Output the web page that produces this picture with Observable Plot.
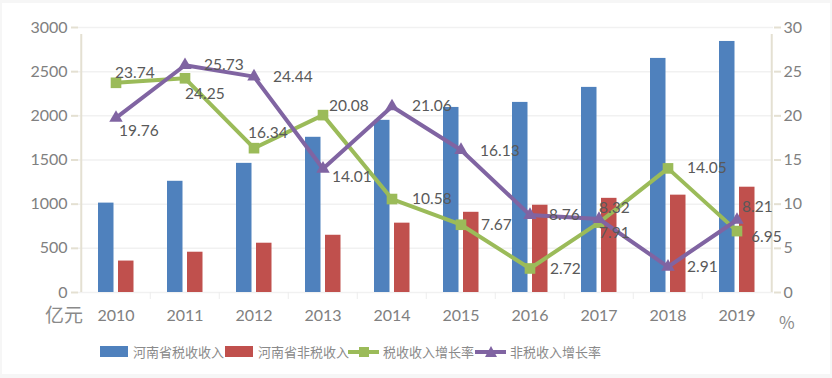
<!DOCTYPE html>
<html><head><meta charset="utf-8">
<script src="https://cdn.jsdelivr.net/npm/d3@7"></script>
<script src="https://cdn.jsdelivr.net/npm/@observablehq/plot@0.6"></script>
<style>
html,body{margin:0;padding:0;background:#f6f6f6;}
#wrap{position:relative;width:832px;height:378px;overflow:hidden;}
#card{position:absolute;left:2px;top:3px;width:828px;height:371px;background:#fff;}
#chart{position:absolute;left:0;top:0;}
.t{position:absolute;white-space:nowrap;color:#8a8a8a;font-family:"Noto Sans CJK SC";}
.sw{position:absolute;}
</style></head>
<body>
<div id="wrap"><div id="card"></div><div id="chart"></div></div>
<script>
const years = ["2010","2011","2012","2013","2014","2015","2016","2017","2018","2019"];
const taxRevenue = [1012, 1259, 1462, 1757, 1949, 2095, 2152, 2322, 2650, 2842];
const nonTaxRevenue = [356, 456, 558, 648, 785, 908, 988, 1066, 1102, 1192];
const taxGrowth = [23.74, 24.25, 16.34, 20.08, 10.58, 7.67, 2.72, 7.91, 14.05, 6.95];
const nonTaxGrowth = [19.76, 25.73, 24.44, 14.01, 21.06, 16.13, 8.76, 8.32, 2.91, 8.21];
const leftTicks = [0, 500, 1000, 1500, 2000, 2500, 3000];
const seriesNames = ["河南省税收收入", "河南省非税收入", "税收收入增长率", "非税收入增长率"];
const unitLeft = "亿元", unitRight = "%";

// label placement (pixel offsets from each point)
const taxLabelOffsets = [[-1,-10],[0,16],[-6,-15],[6,-9],[20,0],[20,0],[20,1],[0,10],[19,0],[14,6]];
const nonTaxLabelOffsets = [[3,13],[19,0],[19,0],[9,8],[20,0],[19,1],[19,0],[0,-11],[19,0],[5,-13]];

const rows = years.map((year, i) => ({
  year, tax: taxRevenue[i], nonTax: nonTaxRevenue[i],
  tg: taxGrowth[i], ng: nonTaxGrowth[i]
}));
const K = 100; // 30% on right axis == 3000 on left axis
const BLUE = "#4f81bd", RED = "#c0504d", GREEN = "#9bbb59", PURPLE = "#8064a2";
const AXIS = "#e4e0d2", GRID = "#f1f1f1";
const W = 832, H = 335, ML = 78, MR = 59, MT = 27, MB = 43;
const bw = (W - ML - MR) / years.length;
const fmt = d3.format(".2f");

const labelMarks = [];
rows.forEach((r, i) => {
  labelMarks.push(Plot.text([r], {x: "year", y: d => d.tg * K, text: d => fmt(d.tg),
    textAnchor: "start", dx: taxLabelOffsets[i][0], dy: taxLabelOffsets[i][1],
    fill: "#595959", fontSize: 15.5}));
  labelMarks.push(Plot.text([r], {x: "year", y: d => d.ng * K, text: d => fmt(d.ng),
    textAnchor: "start", dx: nonTaxLabelOffsets[i][0], dy: nonTaxLabelOffsets[i][1],
    fill: "#595959", fontSize: 15.5}));
});

const chart = Plot.plot({
  width: W, height: H, marginLeft: ML, marginRight: MR, marginTop: MT, marginBottom: MB,
  style: {fontFamily: "Lato", background: "transparent", overflow: "visible"},
  x: {type: "band", domain: years, padding: 0, axis: null, label: null},
  y: {domain: [0, 3000], axis: null, label: null},
  marks: [
    Plot.ruleY(leftTicks, {stroke: GRID, strokeWidth: 1.5}),
    Plot.ruleX(years.slice(1), {x: d => d, dx: -bw / 2, y1: 0, y2: 0, insetBottom: -7, stroke: "#ededed"}),
    Plot.barY(rows, {x: "year", y: "tax", fill: BLUE, insetLeft: 17, insetRight: bw - 33}),
    Plot.barY(rows, {x: "year", y: "nonTax", fill: RED, insetLeft: 37, insetRight: bw - 53}),
    Plot.ruleX([years[0]], {x: d => d, dx: -bw / 2, y1: 0, y2: 3000, insetBottom: -7, stroke: AXIS, strokeWidth: 2}),
    Plot.ruleX([years[years.length - 1]], {x: d => d, dx: bw / 2, y1: 0, y2: 3000, insetBottom: -7, stroke: AXIS, strokeWidth: 2}),
    Plot.line(rows, {x: "year", y: d => d.tg * K, stroke: GREEN, strokeWidth: 4, strokeLinejoin: "round"}),
    Plot.dot(rows, {x: "year", y: d => d.tg * K, symbol: "square", r: 6, fill: GREEN}),
    Plot.line(rows, {x: "year", y: d => d.ng * K, stroke: PURPLE, strokeWidth: 4, strokeLinejoin: "round"}),
    Plot.dot(rows, {x: "year", y: d => d.ng * K, symbol: "triangle", r: 5, fill: PURPLE}),
    ...labelMarks,
    Plot.axisY(leftTicks, {anchor: "left", label: null, tickSize: 7, tickPadding: 4, stroke: AXIS, strokeWidth: 2, fill: "#808080", fontSize: 16, tickFormat: d => String(d)}),
    Plot.axisY(leftTicks, {anchor: "right", label: null, tickSize: 7, tickPadding: 3, stroke: AXIS, strokeWidth: 2, fill: "#808080", fontSize: 16, tickFormat: d => String(d / K)}),
    Plot.axisX({label: null, tickSize: 0, tickPadding: 17, fill: "#808080", fontSize: 16})
  ]
});
const wrap = document.getElementById("chart");
wrap.appendChild(chart);

function addText(txt, left, top, size) {
  const s = document.createElement("div");
  s.className = "t"; s.textContent = txt;
  s.style.left = left + "px"; s.style.top = top + "px"; s.style.fontSize = size + "px";
  s.style.lineHeight = size + "px";
  wrap.appendChild(s);
}
addText(unitLeft, 45, 304, 19);
addText(unitRight, 779, 313, 17);

// legend
const legendY = 352;
const lg = [
  {x: 100, kind: "rect", color: BLUE, tx: 133},
  {x: 225, kind: "rect", color: RED, tx: 258},
  {x: 348, kind: "square", color: GREEN, tx: 383},
  {x: 475, kind: "triangle", color: PURPLE, tx: 510}
];
lg.forEach((it, i) => {
  const ns = "http://www.w3.org/2000/svg";
  const svg = document.createElementNS(ns, "svg");
  svg.setAttribute("width", 32); svg.setAttribute("height", 16);
  svg.style.position = "absolute"; svg.style.left = it.x + "px"; svg.style.top = (legendY - 8) + "px";
  if (it.kind === "rect") {
    const r = document.createElementNS(ns, "rect");
    r.setAttribute("x", 0); r.setAttribute("y", 2); r.setAttribute("width", 28); r.setAttribute("height", 11);
    r.setAttribute("fill", it.color); svg.appendChild(r);
  } else {
    const l = document.createElementNS(ns, "line");
    l.setAttribute("x1", 0); l.setAttribute("x2", 31); l.setAttribute("y1", 8); l.setAttribute("y2", 8);
    l.setAttribute("stroke", it.color); l.setAttribute("stroke-width", 4); svg.appendChild(l);
    const p = document.createElementNS(ns, "path");
    p.setAttribute("d", it.kind === "square" ? "M11,3h10v10h-10z" : "M16,2L22,13L10,13Z");
    p.setAttribute("fill", it.color); svg.appendChild(p);
  }
  wrap.appendChild(svg);
  addText(seriesNames[i], it.tx, legendY - 7, 13);
});
</script>
</body></html>
